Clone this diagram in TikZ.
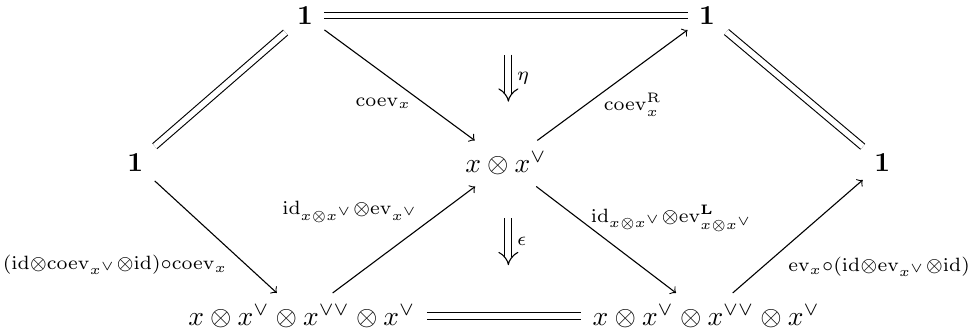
\documentclass[tikz,border=0pt]{standalone}
\usepackage{amsmath,amssymb}
\usetikzlibrary{arrows,positioning}

\begin{document}
\begin{tikzpicture}[
  obj/.style={inner sep=4pt},
  map/.style={->, >=to},
  iso/.style={double, double distance=2pt},
  twocell/.style={-implies, double, double distance=2.2pt},
  lbl/.style={inner sep=1pt}
]
  \useasboundingbox (0,0) rectangle (12.39,-4.245);

  % Objects
  \node[obj] (oneL) at (1.73,-2.085) {$\mathbf{1}$};
  \node[obj] (oneTL) at (3.90,-0.20) {$\mathbf{1}$};
  \node[obj] (oneTR) at (9.04,-0.20) {$\mathbf{1}$};
  \node[obj] (oneR) at (11.28,-2.085) {$\mathbf{1}$};
  \node[obj] (mid) at (6.47,-2.09) {$x\otimes x^\vee$};
  \node[obj] (botL) at (3.86,-4.04) {$x\otimes x^\vee\otimes x^{\vee\vee}\otimes x^\vee$};
  \node[obj] (botR) at (9.03,-4.04) {$x\otimes x^\vee\otimes x^{\vee\vee}\otimes x^\vee$};

  % Identities
  \draw[iso] (oneL) -- (oneTL);
  \draw[iso] (oneTL) -- (oneTR);
  \draw[iso] (oneTR) -- (oneR);
  \draw[iso] (botL) -- (botR);

  % Maps
  \draw[map] (oneTL) -- (mid);
  \draw[map] (mid) -- (oneTR);
  \draw[map] (oneL) -- (botL);
  \draw[map] (botL) -- (mid);
  \draw[map] (mid) -- (botR);
  \draw[map] (botR) -- (oneR);

  % Labels of maps
  \node[lbl] (coevL) at (4.90,-1.32) {$\scriptstyle\mathrm{coev}_x$};
  \node[lbl] (coevR) at (8.09,-1.34) {$\scriptstyle\mathrm{coev}_x^{\mathrm{R}}$};
  \node[lbl] (leftL) at (1.47,-3.39) {$\scriptstyle(\mathrm{id}\otimes\mathrm{coev}_{x^\vee}\otimes\mathrm{id})\circ\mathrm{coev}_x$};
  \node[lbl] (evL) at (4.48,-2.71) {$\scriptstyle\mathrm{id}_{x\otimes x^\vee}\otimes\mathrm{ev}_{x^\vee}$};
  \node[lbl] (evR) at (8.59,-2.79) {$\scriptstyle\mathrm{id}_{x\otimes x^\vee}\otimes\mathrm{ev}^{\mathbf{L}}_{x\otimes x^\vee}$};
  \node[lbl] (rightL) at (11.24,-3.41) {$\scriptstyle\mathrm{ev}_x\circ(\mathrm{id}\otimes\mathrm{ev}_{x^\vee}\otimes\mathrm{id})$};

  % 2-cells
  \coordinate (etaA) at (6.50,-0.70);
  \coordinate (etaB) at (6.50,-1.30);
  \coordinate (epsA) at (6.50,-2.79);
  \coordinate (epsB) at (6.50,-3.39);
  \draw[twocell] (etaA) -- node[lbl, right=2pt] (eta) {$\scriptstyle\eta$} (etaB);
  \draw[twocell] (epsA) -- node[lbl, right=2pt] (eps) {$\scriptstyle\epsilon$} (epsB);
\end{tikzpicture}
\end{document}
